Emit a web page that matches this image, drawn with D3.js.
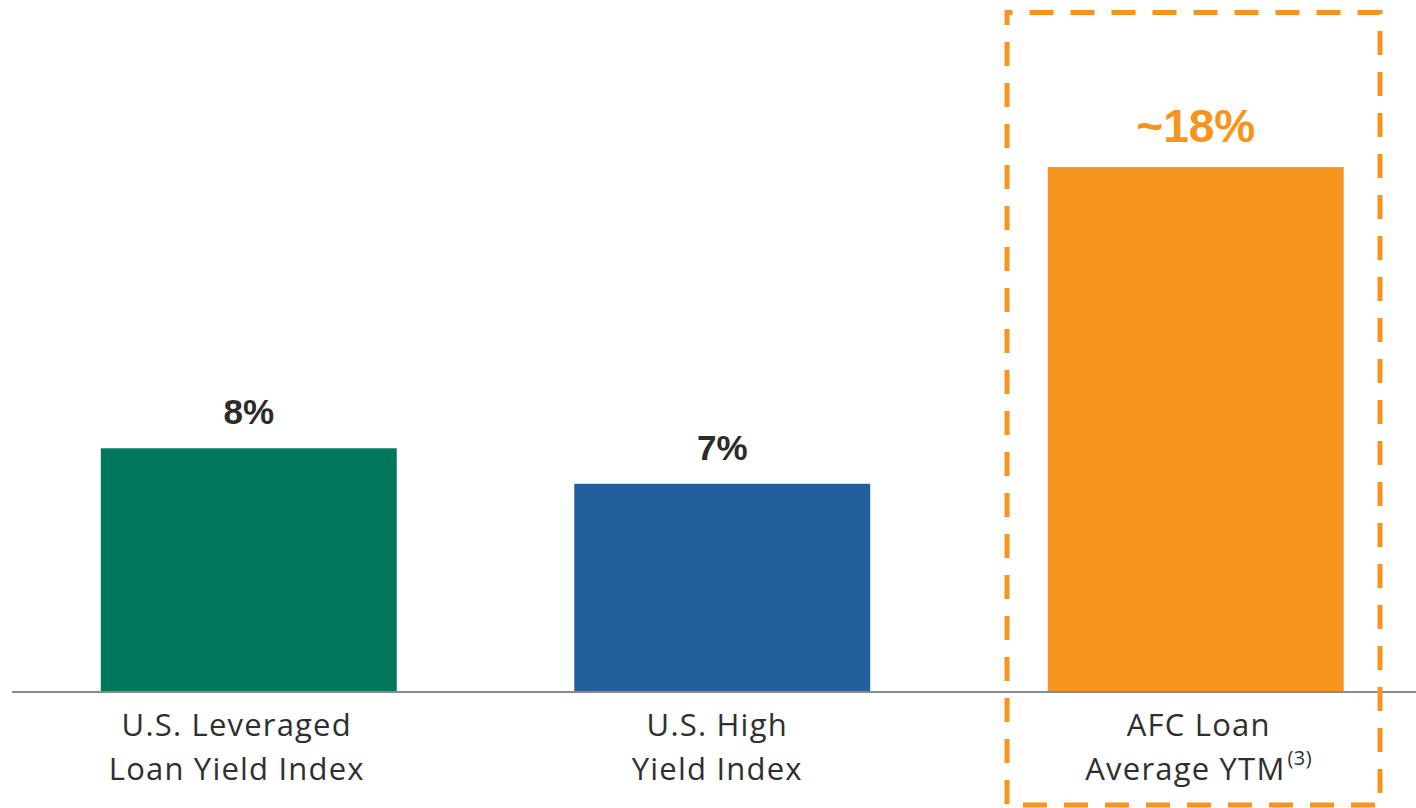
<!DOCTYPE html>
<html><head><meta charset="utf-8">
<script src="https://cdn.jsdelivr.net/npm/d3@7"></script>
<style>html,body{margin:0;padding:0;background:#fff;}svg{display:block;}</style>
</head><body>
<svg id="chart" width="1416" height="808"></svg>
<script>
const categories = ["U.S. Leveraged Loan Yield Index", "U.S. High Yield Index", "AFC Loan Average YTM"];
const labelLines = [["U.S. Leveraged", "Loan Yield Index"], ["U.S. High", "Yield Index"], ["AFC Loan", "Average YTM"]];
const superscripts = ["", "", "(3)"];
const values = [8.2, 7.0, 17.7];
const valueLabels = ["8%", "7%", "~18%"];
const colors = ["#00775A", "#22609C", "#F7941D"];

const svg = d3.select("#chart");
const baseY = 691;
const x = d3.scaleBand().domain(categories).range([12, 1432.5]).paddingInner(0.375).paddingOuter(0.1875);
const y = d3.scaleLinear().domain([0, 20]).range([baseY, baseY - 20 * 29.6]);

svg.selectAll("rect.bar").data(values).join("rect")
  .attr("class", "bar")
  .attr("x", (d, i) => x(categories[i]))
  .attr("width", x.bandwidth())
  .attr("y", d => y(d))
  .attr("height", d => y(0) - y(d))
  .attr("fill", (d, i) => colors[i]);

svg.append("line").attr("x1", 12).attr("x2", 1416).attr("y1", baseY + 1).attr("y2", baseY + 1)
  .attr("stroke", "#8a8a8a").attr("stroke-width", 2);

svg.selectAll("text.val").data(values).join("text")
  .attr("class", "val")
  .attr("x", (d, i) => x(categories[i]) + x.bandwidth() / 2)
  .attr("y", (d, i) => y(d) - (i === 2 ? 25 : 24))
  .attr("text-anchor", "middle")
  .attr("font-family", "'Liberation Sans', Arial, sans-serif")
  .attr("font-weight", "bold")
  .attr("font-size", (d, i) => i === 2 ? 46 : 35)
  .attr("fill", (d, i) => i === 2 ? colors[2] : "#2b2b2b")
  .text((d, i) => valueLabels[i]);

const labelShift = [-12, -5, 3];
categories.forEach((c, i) => {
  const cx = x(c) + x.bandwidth() / 2 + labelShift[i];
  const t = svg.append("text")
    .attr("x", cx).attr("y", 736)
    .attr("text-anchor", "middle")
    .attr("font-family", "'Open Sans', Lato, sans-serif")
    .attr("font-size", 31)
    .attr("letter-spacing", 1.2)
    .attr("fill", "#2f2f2f");
  labelLines[i].forEach((ln, j) => {
    t.append("tspan").attr("x", cx).attr("dy", j === 0 ? 0 : 44).text(ln);
  });
  if (superscripts[i]) {
    t.append("tspan").attr("font-size", 20).attr("letter-spacing", 0.5).attr("dx", 2).attr("dy", -15).text(superscripts[i]);
  }
});

const bx0 = 1007, bx1 = 1380, by0 = 12.5, by1 = 805;
svg.append("path")
  .attr("d", `M${bx0},${by0}L${bx0},${by1}L${bx1},${by1}L${bx1},${by0}Z`)
  .attr("fill", "none")
  .attr("stroke", colors[2])
  .attr("stroke-width", 5)
  .attr("stroke-dasharray", "24 17")
  .attr("stroke-dashoffset", 11.5);
</script>
</body></html>
